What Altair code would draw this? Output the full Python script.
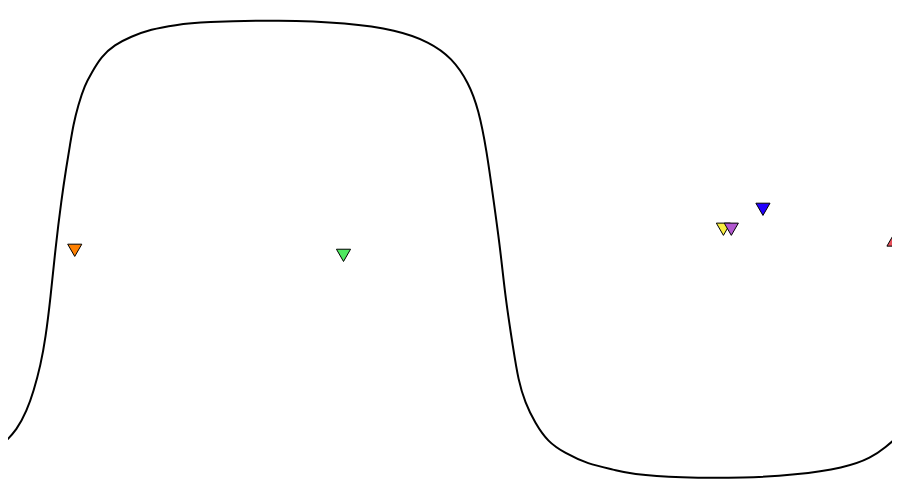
import altair as alt
import pandas as pd

# Curve samples (x position, value; top=100, bottom=-100)
curve_x = [0, 13, 23, 30, 37, 42, 47, 52, 58, 63, 66.7, 70, 75, 81.7, 88.3, 98.3, 111.7, 128.3,
           148.3, 173.3, 200, 280, 347, 397, 430, 453, 470, 480, 488, 495, 502, 507, 515, 520,
           527, 537, 550, 567, 590, 618, 633, 683, 750, 800, 850, 877, 893, 900]
curve_y = [-84.7, -79.0, -70.7, -62.0, -50.7, -38.9, -21.4, 0.4, 21.4, 35.8, 45.4, 54.1, 62.9,
           71.6, 76.7, 84.0, 89.1, 92.7, 95.9, 97.8, 99.1, 100.0, 98.7, 95.6, 90.4, 83.4, 72.5,
           60.7, 43.2, 21.4, -0.4, -21.4, -43.7, -57.2, -67.2, -76.0, -84.3, -89.1, -93.9, -96.5,
           -98.3, -100.0, -100.0, -98.7, -95.6, -91.3, -86.0, -83.4]

# Markers
marker_names = ["orange", "green", "yellow", "purple", "blue", "red"]
marker_x = [71.5, 343.3, 727.5, 735.5, 767.5, 900.0]
marker_y = [-0.6, -2.8, 8.6, 8.6, 17.3, 3.9]
marker_shape = ["triangle-down", "triangle-down", "triangle-down", "triangle-down", "triangle-down", "triangle-up"]
marker_color = ["#ff8000", "#4ee860", "#f8ee40", "#b258d0", "#2200ff", "#e8505b"]

curve = pd.DataFrame({"x": curve_x, "y": curve_y})
markers = pd.DataFrame({"name": marker_names, "x": marker_x, "y": marker_y,
                        "shape": marker_shape, "color": marker_color})

xs = alt.Scale(domain=[4, 898], nice=False, zero=False)
ys = alt.Scale(domain=[-102.2, 105.2], nice=False, zero=False)

line = alt.Chart(curve).mark_line(color="black", strokeWidth=2, interpolate="basis", clip=True).encode(
    x=alt.X("x:Q", scale=xs, axis=None),
    y=alt.Y("y:Q", scale=ys, axis=None),
    order="x:Q",
)

pts = alt.Chart(markers).mark_point(filled=True, size=200, stroke="black", strokeWidth=1, opacity=1).encode(
    x=alt.X("x:Q", scale=xs, axis=None),
    y=alt.Y("y:Q", scale=ys, axis=None),
    shape=alt.Shape("shape:N", scale=None, legend=None),
    fill=alt.Fill("color:N", scale=None, legend=None),
)

chart = (line + pts).properties(
    width=884, height=475, padding=0, autosize=alt.AutoSizeParams(type="none")
).configure_view(stroke=None)

chart.save("out.html", embed_options={"renderer": "svg", "actions": False})
